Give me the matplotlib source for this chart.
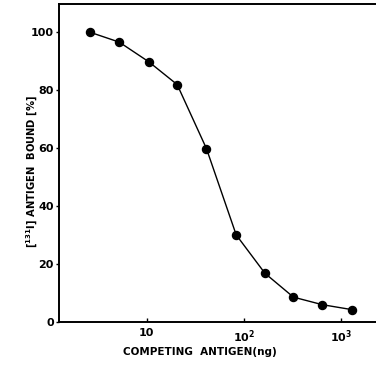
import numpy as np
import matplotlib
matplotlib.use("Agg")
import matplotlib.pyplot as plt

# competing antigen dose (ng) and % bound
antigen_ng = [2.6, 5.2, 10.5, 20.5, 41, 83, 164, 322, 640, 1290]
bound_pct = [99.8, 96.4, 89.6, 81.8, 59.8, 30.1, 16.9, 8.7, 6.1, 4.4]

xtick_vals = [10, 100, 1000]
xtick_labels = ['10', r'$\mathbf{10^2}$', r'$\mathbf{10^3}$']
ytick_vals = [0, 20, 40, 60, 80, 100]

fig = plt.figure(figsize=(3.76, 3.66), dpi=100)
ax = fig.add_axes([0.158, 0.119, 0.842, 0.870])

ax.plot(antigen_ng, bound_pct, '-', color='black', lw=1.0,
        marker='o', markersize=5.8, markerfacecolor='black')

ax.set_xscale('log')
ax.set_xlim(1.26, 2275)
ax.set_ylim(0, 109.5)

ax.set_xticks(xtick_vals)
ax.set_xticklabels(xtick_labels, fontsize=8, fontweight='bold')
ax.xaxis.set_minor_locator(matplotlib.ticker.NullLocator())
ax.set_yticks(ytick_vals)
ax.set_yticklabels([str(v) for v in ytick_vals], fontsize=8, fontweight='bold')

ax.tick_params(axis='x', direction='in', length=3, width=1, pad=4)
ax.tick_params(axis='y', direction='out', length=2.5, width=1, pad=1.5)

for s in ['left', 'bottom', 'top']:
    ax.spines[s].set_linewidth(1.4)
ax.spines['right'].set_visible(False)

ax.set_xlabel('COMPETING  ANTIGEN(ng)', fontsize=7.5, fontweight='bold')
ax.xaxis.set_label_coords(0.444, -0.093)
ax.xaxis.label.set_va('center')
ax.set_ylabel(r'[$^{\mathbf{131}}$I] ANTIGEN  BOUND [%]', fontsize=7.2,
              fontweight='bold')
ax.yaxis.set_label_coords(-0.087, 0.473)
ax.yaxis.label.set_va('center')

fig.savefig('out.png', dpi=100)
